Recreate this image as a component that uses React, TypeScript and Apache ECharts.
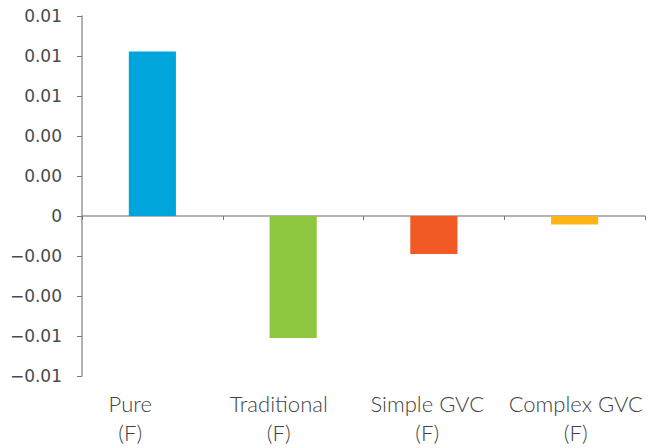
import React, { useEffect, useRef } from "react";
import * as echarts from "echarts";

const categories = ["Pure\n(F)", "Traditional\n(F)", "Simple GVC\n(F)", "Complex GVC\n(F)"];
const values = [0.00823, -0.0061, -0.0019, -0.00043];
const barColors = ["#00A5DB", "#8DC63F", "#F15A24", "#FDB515"];
const yMin = -0.008;
const yMax = 0.01;
const yInterval = 0.002;

function fmt(v: number): string {
  if (Math.abs(v) < 1e-12) return "0";
  const s = Math.abs(v).toFixed(2);
  return (v < 0 ? "\u2212" : "") + s;
}

export default function App() {
  const ref = useRef<HTMLDivElement>(null);
  useEffect(() => {
    if (!ref.current) return;
    const chart = echarts.init(ref.current, undefined, { renderer: "svg" });
    const font = "Lato, 'Noto Sans', sans-serif";
    const numFont = "'DejaVu Sans'";
    chart.setOption({
      animation: false,
      backgroundColor: "#ffffff",
      grid: [
        { left: 82, right: 19, top: 16, bottom: 72, containLabel: false },
        { left: 56, right: 14, top: 16, bottom: 72, containLabel: false },
      ],
      xAxis: [
        {
          type: "category",
          gridIndex: 0,
          data: categories,
          axisLine: { onZero: true, lineStyle: { color: "#9a9a9a", width: 1.5 } },
          axisTick: { show: true, length: 4, lineStyle: { color: "#777" } },
          axisLabel: { show: false },
          splitLine: { show: false },
        },
        {
          type: "category",
          gridIndex: 1,
          data: categories,
          axisLine: { show: false, onZero: false },
          axisTick: { show: false },
          axisLabel: {
            show: true,
            fontSize: 22,
            fontWeight: 300,
            lineHeight: 29,
            color: "#3f3f3f",
            fontFamily: font,
            margin: 13,
            interval: 0,
          },
          splitLine: { show: false },
        },
      ],
      yAxis: [
        {
          type: "value",
          gridIndex: 0,
          min: yMin,
          max: yMax,
          interval: yInterval,
          axisLine: { show: true, lineStyle: { color: "#9a9a9a", width: 1.5 } },
          axisTick: { show: true, length: 5, lineStyle: { color: "#777" } },
          axisLabel: {
            show: true,
            fontSize: 17,
            color: "#4a4a4a",
            fontFamily: numFont,
            margin: 20,
            formatter: (v: number) => fmt(v),
          },
          splitLine: { show: false },
        },
        {
          type: "value",
          gridIndex: 1,
          min: yMin,
          max: yMax,
          interval: yInterval,
          show: false,
          splitLine: { show: false },
        },
      ],
      series: [
        {
          type: "bar",
          xAxisIndex: 0,
          yAxisIndex: 0,
          barWidth: "33.5%",
          data: values.map((v, i) => ({ value: v, itemStyle: { color: barColors[i] } })),
        },
      ],
    });
    return () => chart.dispose();
  }, []);
  return (
    <div
      ref={ref}
      style={{ position: "fixed", left: 0, top: 0, width: 664, height: 448 }}
    />
  );
}
